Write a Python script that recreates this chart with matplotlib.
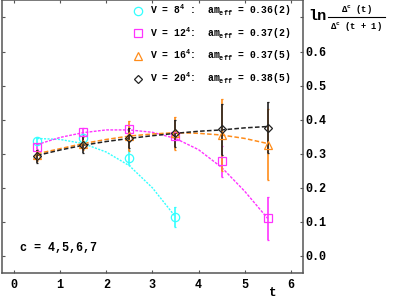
import matplotlib
matplotlib.use("Agg")
import matplotlib.pyplot as plt
from matplotlib.lines import Line2D

plt.rcParams['font.family'] = ['Liberation Mono', 'DejaVu Sans Mono']
plt.rcParams['font.weight'] = 'bold'
plt.rcParams['mathtext.fontset'] = 'custom'
plt.rcParams['mathtext.rm'] = 'Liberation Mono:bold'
plt.rcParams['mathtext.it'] = 'Liberation Mono:bold'
plt.rcParams['mathtext.bf'] = 'Liberation Mono:bold'
plt.rcParams['mathtext.default'] = 'rm'

# Data
t = [0.5, 1.5, 2.5, 3.5, 4.5, 5.5]

v8_t = [0.5, 1.5, 2.5, 3.5]
v8_y = [0.338, 0.345, 0.289, 0.115]
v8_err = [0.008, 0.008, 0.022, 0.030]

v12_y = [0.321, 0.365, 0.374, 0.352, 0.278, 0.110]
v12_err = [0.008, 0.010, 0.010, 0.012, 0.045, 0.063]

v16_y = [0.295, 0.330, 0.352, 0.360, 0.355, 0.327]
v16_err = [0.015, 0.020, 0.045, 0.048, 0.105, 0.105]

v20_y = [0.292, 0.327, 0.347, 0.360, 0.372, 0.377]
v20_err = [0.020, 0.025, 0.030, 0.040, 0.075, 0.075]

# fitted curves, sampled by eye
fit_t = [0.5, 1.0, 1.5, 2.0, 2.5, 3.0, 3.5, 4.0, 4.5, 5.0, 5.5]
fit8 = [0.345, 0.342, 0.330, 0.305, 0.265, 0.200, 0.115]
fit12 = [0.327, 0.348, 0.362, 0.370, 0.370, 0.363, 0.345, 0.312, 0.260, 0.190, 0.110]
fit16 = [0.300, 0.315, 0.330, 0.342, 0.352, 0.358, 0.362, 0.360, 0.355, 0.345, 0.330]
fit20 = [0.295, 0.311, 0.325, 0.336, 0.345, 0.353, 0.360, 0.366, 0.370, 0.376, 0.380]

labels = [r'V = 8$^4$ :  am$_{eff}$ = 0.36(2)',
          r'V = 12$^4$:  am$_{eff}$ = 0.37(2)',
          r'V = 16$^4$:  am$_{eff}$ = 0.37(5)',
          r'V = 20$^4$:  am$_{eff}$ = 0.38(5)']
colors = ['#33ffff', '#ff33ff', '#ff8c1a', '#222222']
markers = ['o', 's', '^', 'D']

fig = plt.figure(figsize=(4.07, 3.02), dpi=100)
ax = fig.add_axes([0.005, 0.096, 0.739, 0.9985 - 0.096])

# fit curves
ax.plot(fit_t[:len(fit8)], fit8, color=colors[0], lw=1, dashes=(1.5, 1))
ax.plot(fit_t, fit12, color=colors[1], lw=1, dashes=(2, 1))
ax.plot(fit_t, fit16, color=colors[2], lw=1.1, dashes=(3, 1.5))
ax.plot(fit_t, fit20, color=colors[3], lw=1.1, dashes=(3, 1.5))

# data points
series = [(v8_t, v8_y, v8_err), (t, v12_y, v12_err), (t, v16_y, v16_err), (t, v20_y, v20_err)]
sizes = [6, 5.5, 6, 4.5]
for (xs, ys, es), c, m, s in zip(series, colors, markers, sizes):
    ax.errorbar(xs, ys, yerr=es, fmt=m, color=c, mfc='none', mec=c, ms=s,
                mew=0.9, elinewidth=1.2, capsize=1, capthick=1)

handles = [Line2D([], [], ls='none', marker=m, mfc='none', mec=c, ms=s, mew=0.9)
           for c, m, s in zip(colors, markers, sizes)]
leg = ax.legend(handles, labels, loc='upper left', bbox_to_anchor=(0.425, 1.005),
                frameon=False, fontsize=7, handlelength=0.8, handletextpad=0.85,
                labelspacing=0.75, borderaxespad=0)

ax.text(0.06, 0.09, 'c = 4,5,6,7', transform=ax.transAxes, fontsize=8.5,
        fontweight='bold', va='center')

ax.set_xlim(-0.26, 6.26)
ax.set_ylim(-0.05, 0.75)
ax.set_xticks([0, 1, 2, 3, 4, 5, 6])
ax.set_yticks([0.0, 0.1, 0.2, 0.3, 0.4, 0.5, 0.6, 0.7])
ax.set_yticklabels(['0.0', '0.1', '0.2', '0.3', '0.4', '0.5', '0.6', ''])
ax.tick_params(axis='x', direction='in', length=2, top=True, bottom=True,
               labelsize=8.5, pad=4, width=0.8, color='#555555')
ax.tick_params(axis='y', direction='in', length=2, left=True, right=True,
               labelleft=False, labelright=True, labelsize=8.5, pad=2,
               width=0.8, color='#555555')
for sp in ax.spines.values():
    sp.set_color('#555555')
    sp.set_linewidth(1.1)

# axis labels
fig.text(273 / 407, 1 - 293 / 302, 't', fontsize=9, fontweight='bold',
         ha='center', va='center')
fig.text(327 / 407, 1 - 16.5 / 302, 'ln', fontsize=11, fontweight='bold',
         ha='right', va='center')
fig.text(356 / 407, 1 - 9.3 / 302, r'$\Delta^c$ (t)', fontsize=6.3,
         ha='center', va='center')
fig.text(356 / 407, 1 - 26.7 / 302, r'$\Delta^c$ (t + 1)', fontsize=6.3,
         ha='center', va='center')
fig.add_artist(Line2D([328 / 407, 385 / 407], [1 - 16.7 / 302, 1 - 16.7 / 302],
                      color='black', lw=0.8))

fig.savefig('out.png', dpi=100)
